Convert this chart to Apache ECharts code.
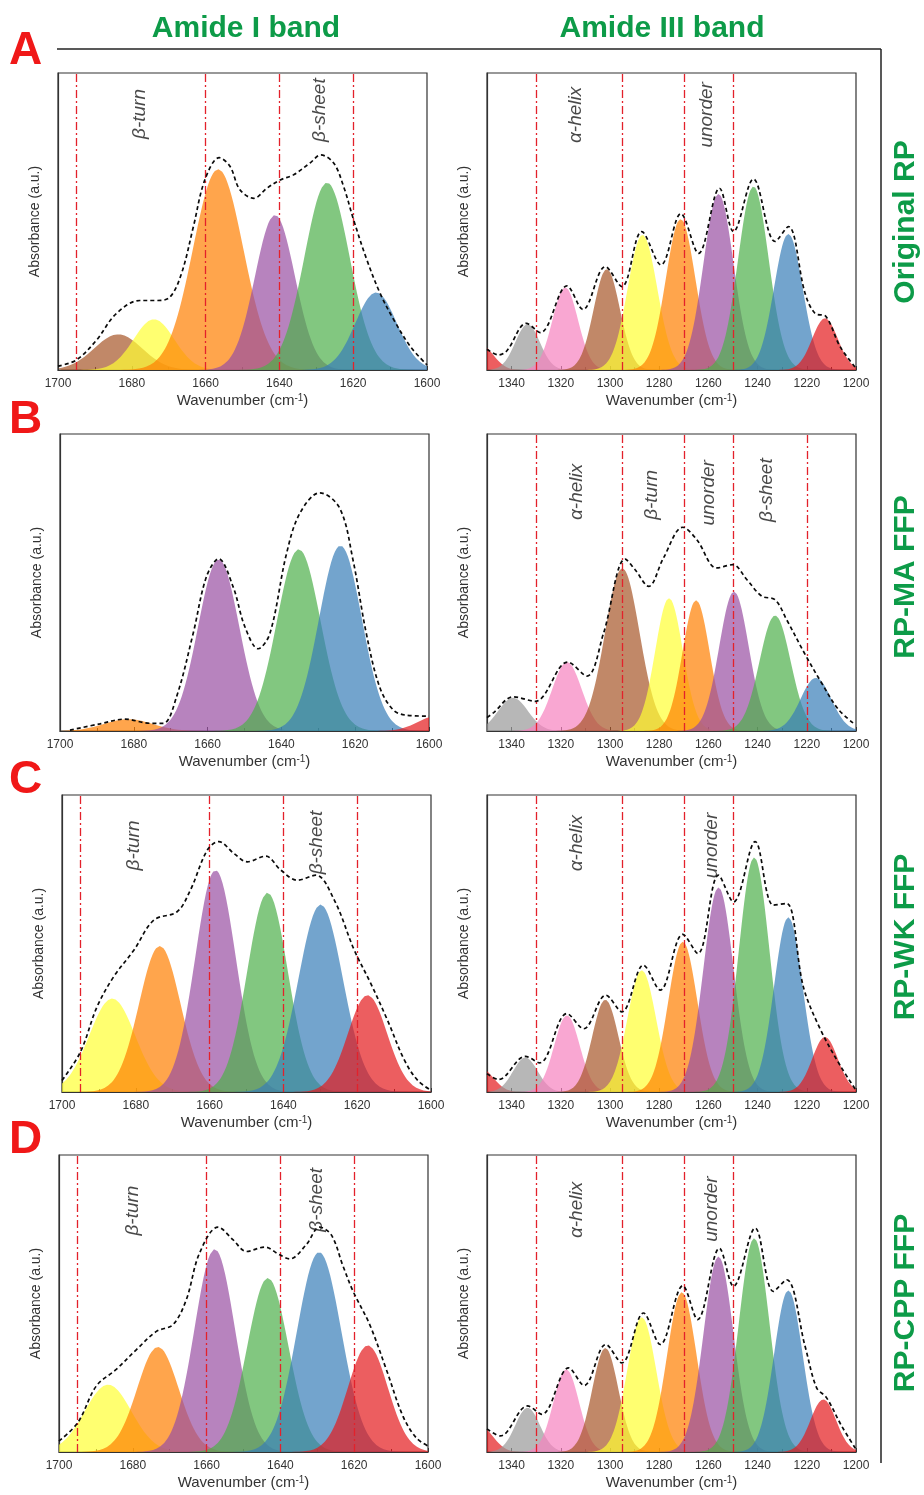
<!DOCTYPE html>
<html>
<head>
<meta charset="utf-8">
<script src="https://cdn.jsdelivr.net/npm/echarts@6/dist/echarts.min.js"></script>
<style>
  html, body { margin: 0; padding: 0; background: #fff; }
  #chart { width: 924px; height: 1495px; }
</style>
</head>
<body>
<div id="chart"></div>
<script>
// ---- axis ticks / region boundaries ----
const amideI_ticks = [1700, 1680, 1660, 1640, 1620, 1600];
const amideIII_ticks = [1340, 1320, 1300, 1280, 1260, 1240, 1220, 1200];
const amideI_bounds = [1695, 1660, 1640, 1620];
const amideIII_bounds = [1330, 1295, 1270, 1250];
const maIII_bounds = [1330, 1295, 1270, 1250, 1220];

// ---- fitted bands: center (cm-1), height (a.u.), sigma (cm-1) ----
// A: Original RP
const origI_center = [1683.7, 1674.0, 1656.6, 1641.2, 1627.1, 1613.8];
const origI_height = [0.120, 0.171, 0.676, 0.522, 0.631, 0.261];
const origI_sigma  = [6.5, 5.5, 6.8, 5.4, 6.1, 5.6];
const origIII_center = [1352.5, 1333.5, 1318.2, 1301.3, 1286.8, 1271.3, 1255.9, 1241.7, 1227.5, 1212.6];
const origIII_height = [0.085, 0.154, 0.278, 0.340, 0.455, 0.508, 0.593, 0.618, 0.458, 0.174];
const origIII_sigma  = [5.0, 5.0, 5.2, 5.3, 6.0, 6.0, 6.1, 6.2, 5.8, 5.2];
// B: RP-MA FFP
const maI_center = [1681.5, 1657.0, 1635.3, 1624.0, 1598.0];
const maI_height = [0.040, 0.578, 0.612, 0.624, 0.050];
const maI_sigma  = [6.5, 5.6, 5.9, 5.8, 5.0];
const maIII_center = [1339.4, 1317.5, 1295.0, 1276.0, 1265.0, 1249.6, 1232.9, 1216.3];
const maIII_height = [0.112, 0.232, 0.548, 0.447, 0.440, 0.469, 0.389, 0.179];
const maIII_sigma  = [6.0, 6.0, 7.0, 5.6, 5.5, 6.0, 6.3, 6.2];
// C: RP-WK FFP
const wkI_center = [1686.4, 1673.5, 1658.4, 1644.3, 1629.9, 1617.2];
const wkI_height = [0.315, 0.492, 0.747, 0.671, 0.631, 0.326];
const wkI_sigma  = [6.2, 5.6, 5.5, 5.5, 6.0, 5.3];
const wkIII_center = [1352.5, 1334.4, 1317.5, 1301.9, 1287.1, 1270.4, 1255.9, 1241.4, 1227.5, 1212.6];
const wkIII_height = [0.080, 0.116, 0.258, 0.311, 0.410, 0.506, 0.689, 0.790, 0.588, 0.185];
const wkIII_sigma  = [5.0, 5.0, 5.2, 5.3, 5.8, 5.9, 6.1, 6.2, 5.8, 5.2];
// D: RP-CPP FFP
const cppI_center = [1686.7, 1673.2, 1657.8, 1643.4, 1629.5, 1616.3];
const cppI_height = [0.227, 0.354, 0.683, 0.586, 0.673, 0.359];
const cppI_sigma  = [6.3, 5.6, 5.5, 5.6, 6.0, 5.4];
const cppIII_center = [1352.5, 1333.5, 1317.8, 1301.9, 1287.1, 1270.8, 1255.9, 1241.4, 1227.5, 1213.3];
const cppIII_height = [0.085, 0.149, 0.278, 0.350, 0.454, 0.538, 0.658, 0.720, 0.544, 0.177];
const cppIII_sigma  = [5.0, 5.0, 5.2, 5.3, 5.9, 6.0, 6.1, 6.2, 5.8, 5.2];

// ---- measured spectra (dashed), [wavenumber, absorbance] ----
const origI_env = [[1700,0.013],[1695,0.034],[1689.6,0.10],[1684.2,0.19],[1677.8,0.234],[1673.3,0.234],[1669.7,0.245],[1666.5,0.326],[1663.3,0.483],[1660.2,0.640],[1656.3,0.715],[1653.4,0.686],[1650.7,0.607],[1646.9,0.578],[1643.4,0.612],[1639.8,0.640],[1636.2,0.657],[1631.7,0.697],[1628.8,0.724],[1625.3,0.697],[1622.6,0.618],[1619.9,0.506],[1616.3,0.371],[1612.7,0.258],[1609.0,0.169],[1604.5,0.079],[1600,0.017]];
const origIII_env = [[1350,0.07],[1345.3,0.051],[1341.9,0.065],[1334.0,0.157],[1328.3,0.126],[1317.5,0.283],[1311.0,0.204],[1301.9,0.348],[1295.2,0.281],[1287.1,0.466],[1279.3,0.354],[1271.2,0.526],[1264.0,0.393],[1255.5,0.612],[1249.8,0.466],[1241.7,0.643],[1232.9,0.433],[1227.5,0.483],[1220.7,0.258],[1216.7,0.191],[1212.2,0.180],[1206.5,0.079],[1200,0.006]];
const maI_env = [[1697.3,0.003],[1689.2,0.024],[1682.4,0.040],[1675.6,0.026],[1672.0,0.026],[1668.4,0.116],[1663.9,0.329],[1660.3,0.52],[1657.0,0.580],[1653.1,0.486],[1649.9,0.351],[1646.3,0.277],[1643.1,0.329],[1638.6,0.598],[1635.0,0.733],[1629.6,0.802],[1624.2,0.75],[1620.6,0.576],[1617.0,0.329],[1613.4,0.149],[1609.7,0.071],[1606.1,0.053],[1600,0.050]];
const maIII_env = [[1350,0.045],[1347.3,0.062],[1339.4,0.115],[1330.4,0.10],[1317.2,0.232],[1309.4,0.185],[1302.6,0.330],[1293.8,0.579],[1289.8,0.543],[1284.3,0.487],[1278.3,0.582],[1270.4,0.686],[1264.7,0.644],[1256.6,0.549],[1250.1,0.560],[1244.4,0.510],[1238.3,0.454],[1232.9,0.442],[1228.2,0.375],[1220.7,0.258],[1214.0,0.162],[1207.2,0.073],[1200.4,0.022]];
const wkI_env = [[1700,0.039],[1695.0,0.135],[1690.5,0.287],[1686.0,0.388],[1680.5,0.478],[1675.1,0.579],[1668.8,0.607],[1665.2,0.680],[1660.6,0.815],[1657.5,0.843],[1653.4,0.803],[1649.8,0.775],[1644.8,0.794],[1640.7,0.747],[1636.2,0.713],[1631.2,0.730],[1626.2,0.646],[1620.8,0.478],[1616.3,0.365],[1611.8,0.242],[1607.2,0.107],[1603.6,0.039],[1600,0.006]];
const wkIII_env = [[1350,0.062],[1345.3,0.042],[1334.4,0.12],[1328.6,0.098],[1317.5,0.264],[1310.7,0.213],[1301.7,0.326],[1295.2,0.270],[1286.4,0.427],[1279.6,0.343],[1270.4,0.531],[1264.3,0.466],[1255.9,0.730],[1249.8,0.640],[1241.0,0.843],[1233.6,0.629],[1228.2,0.635],[1221.4,0.354],[1214.6,0.213],[1206.5,0.09],[1200,0.006]];
const cppI_env = [[1700,0.037],[1694.9,0.099],[1689.9,0.222],[1684.5,0.278],[1679.0,0.345],[1673.6,0.406],[1669.1,0.429],[1665.5,0.513],[1661.9,0.670],[1656.9,0.757],[1652.8,0.714],[1649.2,0.675],[1644.3,0.690],[1640.2,0.664],[1637.5,0.650],[1633.0,0.698],[1629.4,0.757],[1626.2,0.731],[1623.0,0.625],[1620.3,0.541],[1615.8,0.429],[1611.3,0.278],[1606.8,0.121],[1603.2,0.048],[1600,0.020]];
const cppIII_env = [[1350,0.078],[1344.6,0.054],[1333.5,0.155],[1327.7,0.127],[1316.8,0.283],[1310.5,0.224],[1301.7,0.362],[1295.2,0.300],[1286.4,0.468],[1279.6,0.362],[1270.4,0.560],[1264.4,0.446],[1255.5,0.686],[1249.8,0.558],[1241.0,0.754],[1233.6,0.541],[1228.2,0.580],[1220.7,0.356],[1216.0,0.216],[1212.0,0.183],[1205.8,0.087],[1200,0.009]];

// ---- structure labels: [text, wavenumber, absorbance] ----
const origI_notes = [['β-turn', 1677.8, 0.862], ['β-sheet', 1629, 0.875]];
const origIII_notes = [['α-helix', 1314, 0.859], ['unorder', 1260.6, 0.859]];
const maI_notes = [];
const maIII_notes = [['α-helix', 1313.5, 0.805], ['β-turn', 1283, 0.795], ['unorder', 1260, 0.802], ['β-sheet', 1236.3, 0.811]];
const wkI_notes = [['β-turn', 1680.6, 0.83], ['β-sheet', 1631, 0.84]];
const wkIII_notes = [['α-helix', 1313.5, 0.838], ['unorder', 1258.7, 0.83]];
const cppI_notes = [['β-turn', 1679.9, 0.813], ['β-sheet', 1630.2, 0.849]];
const cppIII_notes = [['α-helix', 1313.5, 0.815], ['unorder', 1258.7, 0.818]];

const rowTitles = ['Original RP', 'RP-MA FFP', 'RP-WK FFP', 'RP-CPP FFP'];
const rowLetters = ['A', 'B', 'C', 'D'];
const colTitles = ['Amide I band', 'Amide III band'];

// ---- styles ----
const FONT = '"Liberation Sans", Arial, sans-serif';
const SET1 = {
    red: '#e41a1c', blue: '#377eb8', green: '#4daf4a', purple: '#984ea3', orange: '#ff7f00',
    yellow: '#ffff33', brown: '#a65628', pink: '#f781bf', gray: '#999999'
};
const colI_orig = ['brown', 'yellow', 'orange', 'purple', 'green', 'blue'];
const colI_ma = ['orange', 'purple', 'green', 'blue', 'red'];
const colI_ffp = ['yellow', 'orange', 'purple', 'green', 'blue', 'red'];
const colIII_full = ['red', 'gray', 'pink', 'brown', 'yellow', 'orange', 'purple', 'green', 'blue', 'red'];
const colIII_ma = ['gray', 'pink', 'brown', 'yellow', 'orange', 'purple', 'green', 'blue'];

const LEFT_X = [58, 60, 62, 59];
const RIGHT_X = 487;
const TOPS = [73, 434, 795, 1155];
const W = 369, H = 297;

const panels = [
    {row: 0, col: 0, c: origI_center, h: origI_height, s: origI_sigma, env: origI_env, bounds: amideI_bounds, notes: origI_notes, colors: colI_orig},
    {row: 0, col: 1, c: origIII_center, h: origIII_height, s: origIII_sigma, env: origIII_env, bounds: amideIII_bounds, notes: origIII_notes, colors: colIII_full},
    {row: 1, col: 0, c: maI_center, h: maI_height, s: maI_sigma, env: maI_env, bounds: [], notes: maI_notes, colors: colI_ma},
    {row: 1, col: 1, c: maIII_center, h: maIII_height, s: maIII_sigma, env: maIII_env, bounds: maIII_bounds, notes: maIII_notes, colors: colIII_ma},
    {row: 2, col: 0, c: wkI_center, h: wkI_height, s: wkI_sigma, env: wkI_env, bounds: amideI_bounds, notes: wkI_notes, colors: colI_ffp},
    {row: 2, col: 1, c: wkIII_center, h: wkIII_height, s: wkIII_sigma, env: wkIII_env, bounds: amideIII_bounds, notes: wkIII_notes, colors: colIII_full},
    {row: 3, col: 0, c: cppI_center, h: cppI_height, s: cppI_sigma, env: cppI_env, bounds: amideI_bounds, notes: cppI_notes, colors: colI_ffp},
    {row: 3, col: 1, c: cppIII_center, h: cppIII_height, s: cppIII_sigma, env: cppIII_env, bounds: amideIII_bounds, notes: cppIII_notes, colors: colIII_full}
];

// gaussian band sampled across the axis range
function band(c, h, s, lo, hi) {
    const pts = [];
    for (let x = lo; x <= hi + 1e-9; x += 0.5) {
        pts.push([x, h * Math.exp(-(x - c) * (x - c) / (2 * s * s))]);
    }
    return pts;
}

const grids = [], xAxes = [], yAxes = [], series = [];

panels.forEach((p, i) => {
    const amideI = p.col === 0;
    const lo = amideI ? 1600 : 1200, hi = amideI ? 1700 : 1350;
    const ticks = amideI ? amideI_ticks : amideIII_ticks;

    grids.push({
        left: amideI ? LEFT_X[p.row] : RIGHT_X, top: TOPS[p.row], width: W, height: H,
        show: true, borderColor: '#333', borderWidth: 1.2
    });
    xAxes.push({
        gridIndex: i, type: 'value', min: lo, max: hi, interval: 20, inverse: true,
        axisLine: {show: true, onZero: false, lineStyle: {color: '#333', width: 1.2}},
        axisTick: {show: true, inside: true, length: 4, lineStyle: {color: '#333'}},
        minorTick: {show: true, splitNumber: 2, length: 3, lineStyle: {color: '#333'}},
        splitLine: {show: false},
        axisLabel: {
            fontSize: 12, color: '#333', fontFamily: FONT, margin: 8,
            formatter: v => ticks.includes(v) ? String(v) : ''
        },
        name: '{n|Wavenumber (cm}{s|-1}{n|)}',
        nameLocation: 'middle', nameGap: 23,
        nameTextStyle: {
            rich: {
                n: {fontSize: 15, color: '#333', fontFamily: FONT},
                s: {fontSize: 10, color: '#333', fontFamily: FONT, verticalAlign: 'top'}
            }
        }
    });
    yAxes.push({
        gridIndex: i, type: 'value', min: 0, max: 1,
        axisLine: {show: true, lineStyle: {color: '#333', width: 1.2}},
        axisTick: {show: false}, axisLabel: {show: false}, splitLine: {show: false},
        name: 'Absorbance (a.u.)', nameLocation: 'middle', nameGap: 16,
        nameTextStyle: {fontSize: 14, color: '#333', fontFamily: FONT}
    });

    p.c.forEach((c, j) => {
        series.push({
            type: 'line', xAxisIndex: i, yAxisIndex: i, silent: true,
            data: band(c, p.h[j], p.s[j], lo, hi),
            symbol: 'none', lineStyle: {width: 0, opacity: 0},
            areaStyle: {color: SET1[p.colors[j]], opacity: 0.7},
            z: 2
        });
    });

    const env = {
        type: 'line', xAxisIndex: i, yAxisIndex: i, silent: true,
        data: p.env, smooth: 0.35, symbol: 'none',
        lineStyle: {color: '#0a0a0a', width: 1.7, type: [4, 3]},
        z: 5
    };
    if (p.bounds.length) {
        env.markLine = {
            silent: true, symbol: ['none', 'none'], label: {show: false},
            lineStyle: {color: '#e3212b', width: 1.3, type: [8, 3, 2, 3]},
            data: p.bounds.map(v => ({xAxis: v}))
        };
    }
    series.push(env);

    if (p.notes.length) {
        series.push({
            type: 'scatter', xAxisIndex: i, yAxisIndex: i, silent: true,
            symbolSize: 1, itemStyle: {color: 'transparent'},
            data: p.notes.map(n => ({name: n[0], value: [n[1], n[2]]})),
            label: {
                show: true, formatter: '{b}', position: 'inside', rotate: 90,
                fontSize: 19, fontStyle: 'italic', color: '#1a1a1a', fontFamily: FONT
            },
            z: 6
        });
    }
});

const graphics = [
    {type: 'line', shape: {x1: 57, y1: 49, x2: 881, y2: 49}, style: {stroke: '#222', lineWidth: 1.5}},
    {type: 'line', shape: {x1: 881, y1: 49, x2: 881, y2: 1463}, style: {stroke: '#222', lineWidth: 1.5}}
];
[246, 662].forEach((x, k) => {
    graphics.push({
        type: 'text', x: x, y: 29,
        style: {text: colTitles[k], font: 'bold 30px ' + FONT, fill: '#0d9b48', align: 'center', verticalAlign: 'middle'}
    });
});
[28, 397, 757, 1117].forEach((y, k) => {
    graphics.push({
        type: 'text', x: 9, y: y,
        style: {text: rowLetters[k], font: 'bold 46px ' + FONT, fill: '#f01818', align: 'left', verticalAlign: 'top'}
    });
});
[222, 577, 937, 1303].forEach((y, k) => {
    graphics.push({
        type: 'text', x: 906, y: y, rotation: Math.PI / 2,
        style: {text: rowTitles[k], font: 'bold 30px ' + FONT, fill: '#0d9b48', align: 'center', verticalAlign: 'middle'}
    });
});

const chart = echarts.init(document.getElementById('chart'));
chart.setOption({
    animation: false,
    backgroundColor: '#fff',
    textStyle: {fontFamily: FONT},
    grid: grids,
    xAxis: xAxes,
    yAxis: yAxes,
    series: series,
    graphic: graphics
});
</script>
</body>
</html>
